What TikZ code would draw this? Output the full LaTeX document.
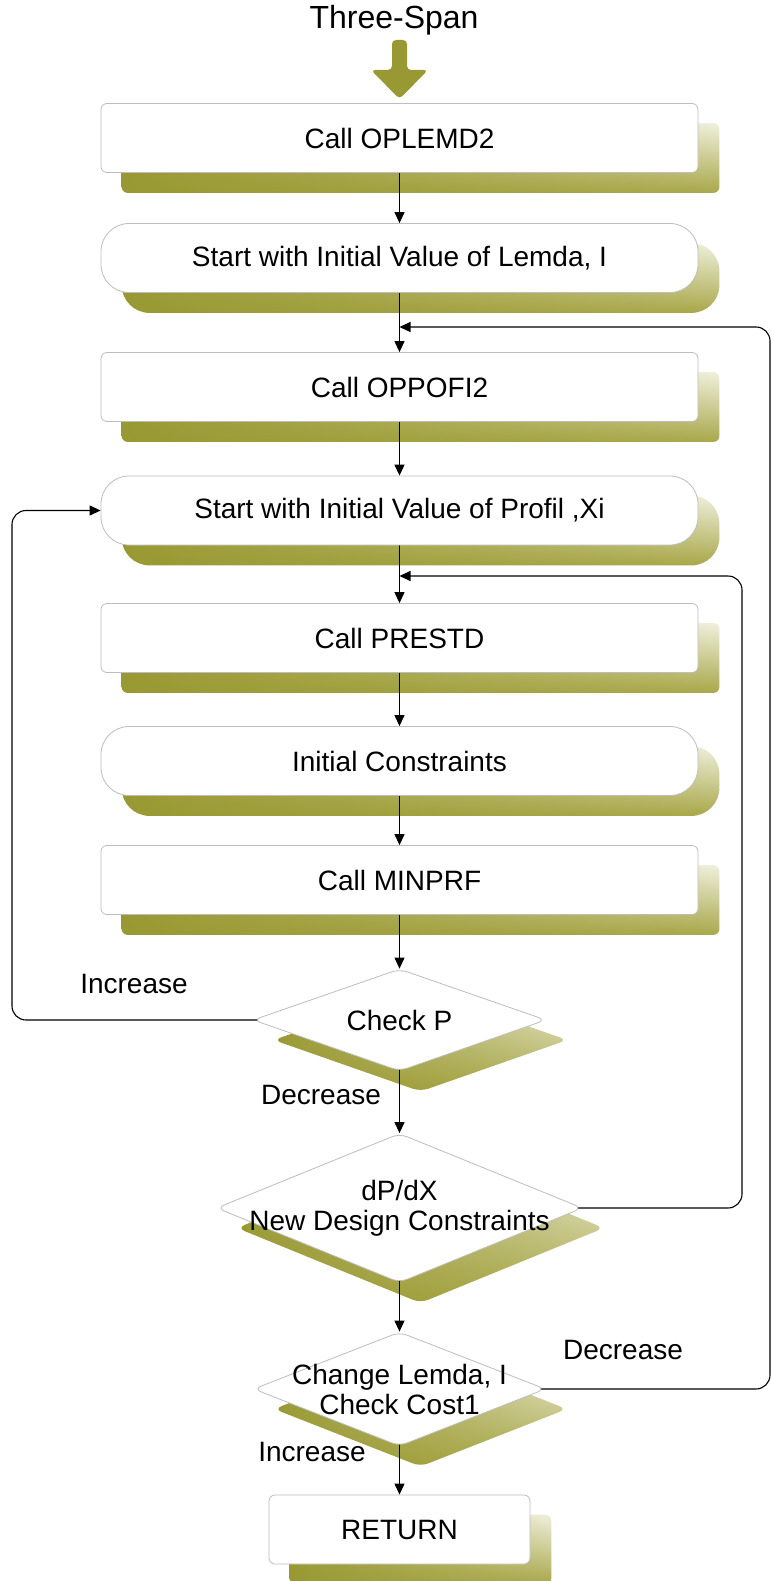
\documentclass[tikz,border=0pt]{standalone}
\usepackage{fontspec}
\setmainfont{Liberation Sans}
\usetikzlibrary{shapes.geometric,arrows.meta,backgrounds,shadings}
\definecolor{oliveA}{HTML}{999933}
\definecolor{oliveL}{HTML}{F0F0DE}
\definecolor{oliveM}{HTML}{A9A84A}
\definecolor{borderG}{HTML}{BDBDBD}
\tikzset{
  box/.style={draw=borderG, line width=0.8pt, fill=white, rounded corners=6pt,
    minimum width=597pt, minimum height=69pt, inner sep=0pt,
    font=\fontsize{28}{30}\selectfont},
  pill/.style={box, rounded corners=28pt},
  dia/.style={diamond, draw=borderG, line width=0.8pt, fill=white,
    rounded corners=8pt, inner sep=0pt},
  lbl/.style={font=\fontsize{28}{30}\selectfont, inner sep=0pt, align=center},
  arr/.style={line width=1.1pt, -{Triangle[length=11pt,width=10pt]}},
  shad/.style={upper left=oliveA, lower left=oliveA, lower right=oliveM, upper right=oliveL},
}
\begin{document}
\begin{tikzpicture}[x=1pt,y=-1pt]
\useasboundingbox (0,0) rectangle (771,1581);

% title and fat arrow
\node[lbl, font=\fontsize{32}{34}\selectfont] (title) at (394,20) {Three-Span};
\fill[oliveA, rounded corners=4pt] (392,40) -- (407,40) -- (407,70) -- (428,70)
  -- (399.5,99) -- (371,70) -- (392,70) -- cycle;

% boxes
\node[box]  (b1) at (399.5,138)   {Call OPLEMD2};
\node[pill] (b2) at (399.5,258)   {Start with Initial Value of Lemda, I};
\node[box]  (b3) at (399.5,387)   {Call OPPOFI2};
\node[pill] (b4) at (399.5,510.5) {Start with Initial Value of Profil ,Xi};
\node[box]  (b5) at (399.5,638)   {Call PRESTD};
\node[pill] (b6) at (399.5,761)   {Initial Constraints};
\node[box]  (b7) at (399.5,880)   {Call MINPRF};

% decisions
\node[dia, minimum width=293pt, minimum height=102pt] (d1) at (399.5,1020) {};
\node[lbl] (d1t) at (d1) {Check P};
\node[dia, minimum width=366pt, minimum height=149pt] (d2) at (399.5,1208) {};
\node[lbl] (d2t) at (d2) {dP/dX\\New Design Constraints};
\node[dia, minimum width=292pt, minimum height=114pt] (d3) at (399.5,1389) {};
\node[lbl] (d3t) at (d3) {Change Lemda, I\\Check Cost1};

\node[box, minimum width=261pt] (ret) at (399.5,1529.5) {RETURN};

% edge labels
\node[lbl] (inc1) at (134,984)  {Increase};
\node[lbl] (dec1) at (321,1095) {Decrease};
\node[lbl] (dec2) at (623,1350) {Decrease};
\node[lbl] (inc2) at (312,1452) {Increase};

\coordinate (j1) at (399.5,327);
\coordinate (j2) at (399.5,576);

\begin{scope}[on background layer]
  \fill[white] (0,0) rectangle (771,1581);
  % shadows
  \foreach \n/\r in {b1/6,b2/28,b3/6,b4/28,b5/6,b6/28,b7/6,ret/6}{
    \shade[shad, rounded corners=\r pt]
      ([shift={(21,20)}]\n.north west) rectangle ([shift={(21,20)}]\n.south east);
  }
  \foreach \n in {d1,d2,d3}{
    \shade[shad, rounded corners=8pt]
      ([shift={(21,20)}]\n.north) -- ([shift={(21,20)}]\n.east)
      -- ([shift={(21,20)}]\n.south) -- ([shift={(21,20)}]\n.west) -- cycle;
  }
  % connectors
  \draw[arr] (b1) -- (b2);
  \draw[arr] (b2) -- (b3);
  \draw[arr] (b3) -- (b4);
  \draw[arr] (b4) -- (b5);
  \draw[arr] (b5) -- (b6);
  \draw[arr] (b6) -- (b7);
  \draw[arr] (b7) -- (d1);
  \draw[arr] (d1.center) -- (d2);
  \draw[arr] (d2.center) -- (d3);
  \draw[arr] (d3.center) -- (ret);
  \draw[arr, rounded corners=14pt] ([xshift=8pt]d1.west) -- (12,1020) |- (b4.west);
  \draw[arr, rounded corners=14pt] ([xshift=-8pt]d2.east) -- (742,1208) |- (j2);
  \draw[arr, rounded corners=14pt] ([xshift=-8pt]d3.east) -- (770,1389) |- (j1);
\end{scope}
\end{tikzpicture}
\end{document}
